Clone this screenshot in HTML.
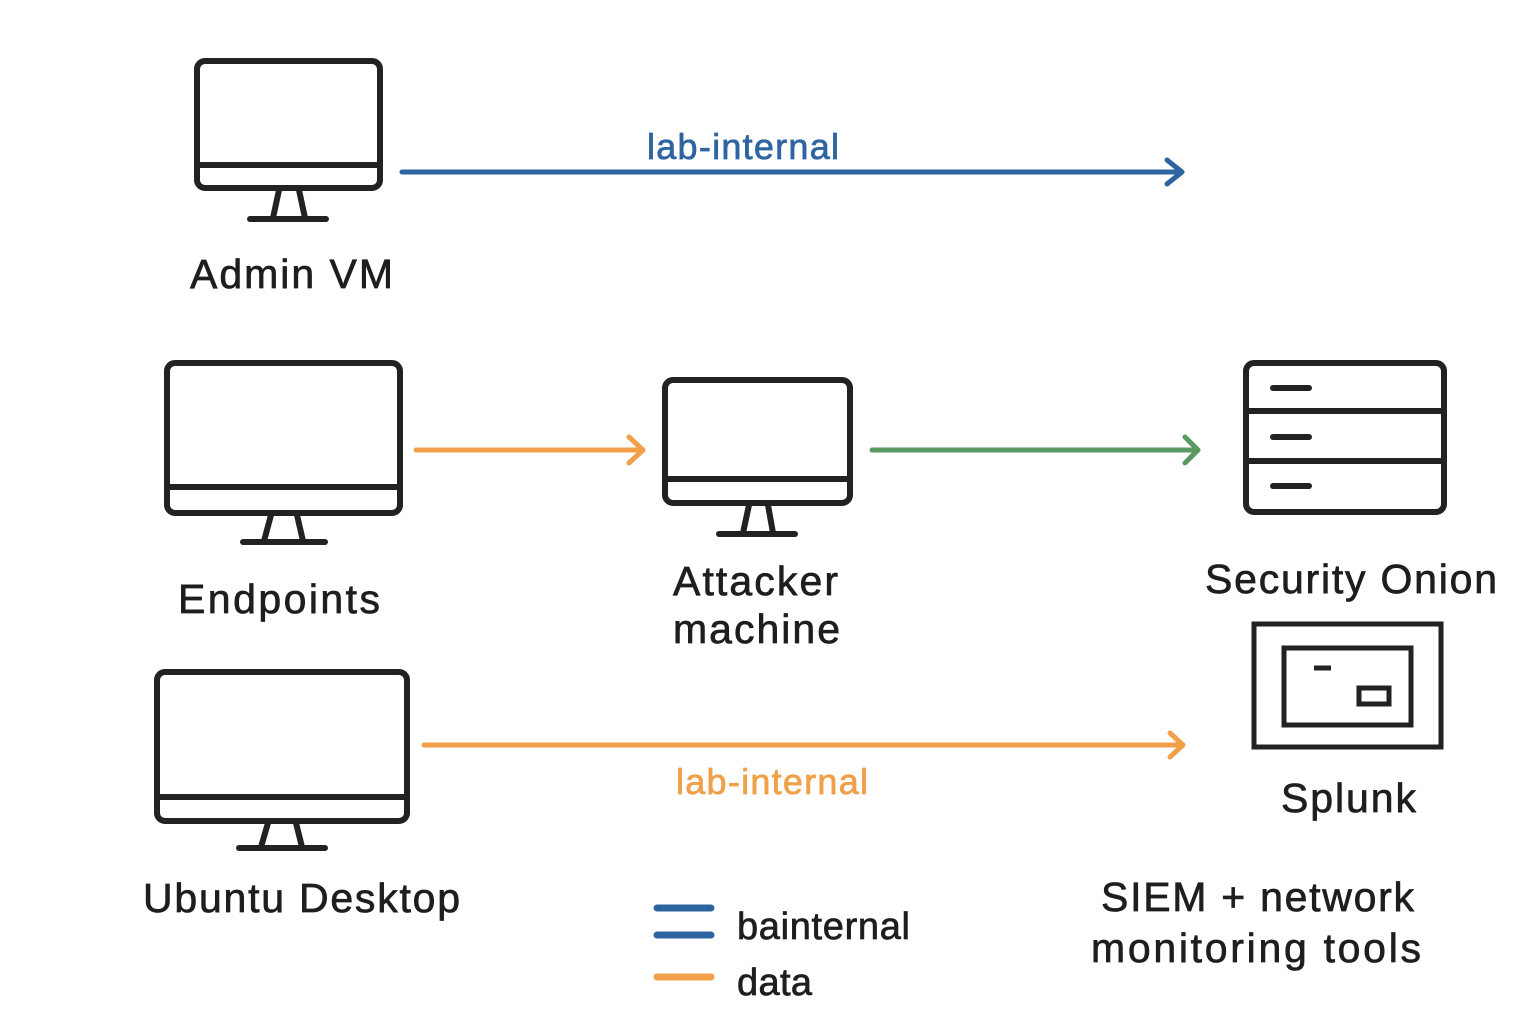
<!DOCTYPE html>
<html><head><style>body{margin:0;background:#fff}svg{display:block}text{font-family:"Liberation Sans",sans-serif;fill:#1e1e1e;stroke:#1e1e1e;stroke-width:0.7}</style></head><body>
<svg width="1536" height="1024" viewBox="0 0 1536 1024" xmlns="http://www.w3.org/2000/svg">
<g fill="none" stroke="#222" stroke-width="6" stroke-linecap="round" stroke-linejoin="round">
<rect x="197" y="61" width="183" height="127" rx="8"/><line x1="197" y1="165" x2="380" y2="165"/>
<path d="M279 190 L273 218 M299 190 L305 218"/><line x1="250" y1="219" x2="326" y2="219"/>
<rect x="167" y="363" width="233" height="150" rx="8"/><line x1="167" y1="487" x2="400" y2="487"/>
<path d="M271 515 L264 541 M297 515 L303 541"/><line x1="243" y1="542" x2="325" y2="542"/>
<rect x="665" y="380" width="185" height="123" rx="8"/><line x1="665" y1="479" x2="850" y2="479"/>
<path d="M749 505 L743 533 M768 505 L773 533"/><line x1="719" y1="534" x2="795" y2="534"/>
<rect x="157" y="672" width="250" height="149" rx="8"/><line x1="157" y1="797" x2="407" y2="797"/>
<path d="M268 823 L261 847 M296 823 L302 847"/><line x1="239" y1="848" x2="325" y2="848"/>
<rect x="1246" y="363" width="198" height="149" rx="8"/><line x1="1246" y1="411" x2="1444" y2="411"/><line x1="1246" y1="461" x2="1444" y2="461"/>
<line x1="1273" y1="388" x2="1309" y2="388"/><line x1="1273" y1="437" x2="1309" y2="437"/><line x1="1273" y1="486" x2="1309" y2="486"/>
</g>
<g fill="none" stroke="#222" stroke-width="5">
<rect x="1254" y="624" width="187" height="123"/>
<rect x="1284" y="648" width="127" height="77"/>
<line x1="1314" y1="668" x2="1331" y2="668"/>
<rect x="1359" y="688" width="30" height="16"/>
</g>
<g fill="none" stroke-width="5" stroke-linecap="round" stroke-linejoin="round">
<path d="M402 172 H1182 M1167 160 L1182 172 L1167 184" stroke="#2e64a0"/>
<path d="M416 450 H643 M629 437 L643 450 L629 463" stroke="#f0a048"/>
<path d="M872 450 H1198 M1185 437 L1198 450 L1185 463" stroke="#5a9a62"/>
<path d="M424 745 H1183 M1170 733 L1183 745 L1170 757" stroke="#f0a048"/>
<line x1="657" y1="908" x2="711" y2="908" stroke="#2e64a0" stroke-width="7"/>
<line x1="657" y1="935" x2="711" y2="935" stroke="#2e64a0" stroke-width="7"/>
<line x1="657" y1="977" x2="711" y2="977" stroke="#f0a048" stroke-width="7"/>
</g>
<g font-size="41" lengthAdjust="spacingAndGlyphs">
<text x="647" y="159" font-size="36" textLength="192" style="fill:#2e64a0;stroke:#2e64a0">lab-internal</text>
<text x="190" y="288" textLength="203">Admin VM</text>
<text x="178" y="613" textLength="202">Endpoints</text>
<text x="673" y="595" textLength="165">Attacker</text>
<text x="673" y="643" textLength="167">machine</text>
<text x="1205" y="593" textLength="292">Security Onion</text>
<text x="1281" y="812" textLength="135">Splunk</text>
<text x="676" y="794" font-size="36" textLength="192" style="fill:#f0a048;stroke:#f0a048">lab-internal</text>
<text x="143" y="912" textLength="317">Ubuntu Desktop</text>
<text x="1101" y="911" textLength="313">SIEM + network</text>
<text x="1091" y="962" textLength="330">monitoring tools</text>
<text x="737" y="939" font-size="38" textLength="173">bainternal</text>
<text x="737" y="995" font-size="38" textLength="75">data</text>
</g>
</svg>
</body></html>
